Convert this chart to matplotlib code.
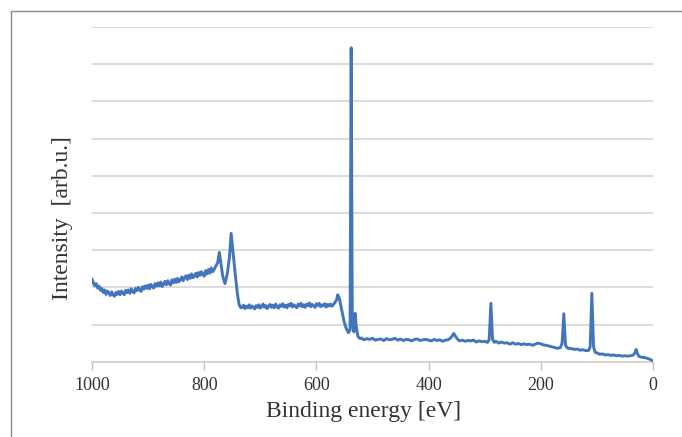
import matplotlib
matplotlib.use("Agg")
import matplotlib.pyplot as plt
from matplotlib.patches import Rectangle
import numpy as np

# Section A: high-energy background, 1000 -> 780 eV (2.5 eV steps)
energy_a = np.arange(1000.0, 779.0, -2.5)
intensity_a = [
    2.22, 2.12, 2.04, 2.10, 1.98, 2.03, 1.92, 1.97, 1.86, 1.93, 1.81, 1.90, 1.85, 1.78, 1.88, 1.80,
    1.76, 1.86, 1.81, 1.89, 1.80, 1.90, 1.85, 1.80, 1.92, 1.86, 1.93, 1.84, 1.96, 1.88, 1.85, 1.97,
    1.91, 2.00, 1.93, 1.89, 2.02, 1.95, 2.04, 1.97, 2.06, 1.96, 2.08, 2.01, 1.98, 2.10, 2.03, 2.12,
    2.04, 2.14, 2.02, 2.09, 2.16, 2.07, 2.18, 2.10, 2.06, 2.20, 2.12, 2.22, 2.13, 2.24, 2.15, 2.20,
    2.28, 2.18, 2.26, 2.31, 2.21, 2.33, 2.24, 2.36, 2.26, 2.30, 2.38, 2.28, 2.40, 2.32, 2.42, 2.35,
    2.30, 2.45, 2.36, 2.48, 2.38, 2.52, 2.42, 2.47, 2.55,
]

# Section LMM peaks: 776 -> 735 eV
energy_lmm = [776, 773, 770, 767, 763, 759, 755, 752, 749, 745, 741, 738, 735]
intensity_lmm = [2.66, 2.94, 2.62, 2.30, 2.10, 2.35, 2.80, 3.45, 3.00, 2.40, 1.85, 1.55, 1.45]

# Section B: plateau, 732.5 -> 567.5 eV (2.5 eV steps)
energy_b = np.arange(732.5, 567.0, -2.5)
intensity_b = [
    1.46, 1.52, 1.43, 1.49, 1.45, 1.53, 1.44, 1.50, 1.47, 1.42, 1.51, 1.46, 1.53, 1.44, 1.49, 1.55,
    1.46, 1.51, 1.43, 1.50, 1.54, 1.46, 1.52, 1.45, 1.55, 1.48, 1.44, 1.53, 1.49, 1.56, 1.47, 1.52,
    1.45, 1.54, 1.50, 1.57, 1.47, 1.53, 1.49, 1.45, 1.55, 1.50, 1.57, 1.48, 1.53, 1.46, 1.55, 1.51,
    1.58, 1.48, 1.54, 1.50, 1.46, 1.56, 1.51, 1.57, 1.48, 1.53, 1.50, 1.56, 1.47, 1.54, 1.50, 1.55,
    1.49, 1.53, 1.58,
]

# Section O 1s region: 564 -> 522 eV
energy_o = [564, 562, 559, 555, 551, 547, 543, 540, 538, 536, 533, 531, 529, 526, 522]
intensity_o = [1.66, 1.80, 1.70, 1.40, 1.10, 0.90, 0.78, 0.85, 8.44, 1.00, 0.80, 1.30, 0.95, 0.68, 0.62]

# Section C: low-energy baseline with C 1s, S 2p, Si 2p-type peaks, 520 -> 0 eV
energy_c = [
    520, 515, 510, 505, 500, 495, 490, 485, 480, 475, 470, 465, 460, 455, 450, 445,
    440, 435, 430, 425, 420, 415, 410, 405, 400, 395, 390, 385, 380, 375, 370, 365,
    360, 355, 352, 348, 345, 340, 335, 330, 325, 320, 315, 310, 305, 300, 295, 292,
    289, 286, 283, 280, 275, 270, 265, 260, 255, 250, 245, 240, 235, 230, 225, 220,
    215, 210, 205, 200, 195, 190, 185, 180, 175, 170, 165, 162, 159, 156, 153, 150,
    145, 140, 135, 130, 125, 120, 115, 112, 109, 106, 103, 100, 95, 90, 85, 80,
    75, 70, 65, 60, 55, 50, 45, 40, 35, 32, 30, 28, 25, 20, 15, 10, 5, 0,
]
intensity_c = [
    0.64, 0.59, 0.62, 0.60, 0.63, 0.58, 0.60, 0.61, 0.57, 0.62, 0.59, 0.60, 0.63, 0.58, 0.61, 0.57,
    0.60, 0.59, 0.56, 0.60, 0.61, 0.57, 0.59, 0.60, 0.58, 0.56, 0.60, 0.57, 0.59, 0.55, 0.58, 0.59,
    0.65, 0.76, 0.68, 0.60, 0.56, 0.58, 0.55, 0.57, 0.56, 0.58, 0.53, 0.56, 0.54, 0.55, 0.52, 0.60,
    1.57, 0.60, 0.52, 0.55, 0.50, 0.53, 0.50, 0.51, 0.47, 0.51, 0.47, 0.49, 0.46, 0.48, 0.46, 0.47,
    0.44, 0.47, 0.50, 0.48, 0.45, 0.44, 0.42, 0.40, 0.38, 0.36, 0.38, 0.50, 1.29, 0.45, 0.37, 0.36,
    0.35, 0.33, 0.34, 0.31, 0.32, 0.30, 0.30, 0.40, 1.84, 0.40, 0.25, 0.24, 0.20, 0.21, 0.18, 0.19,
    0.17, 0.18, 0.16, 0.17, 0.15, 0.16, 0.15, 0.16, 0.18, 0.25, 0.33, 0.22, 0.14, 0.12, 0.11, 0.09, 0.06, 0.02,
]

x_ticks = [1000, 800, 600, 400, 200, 0]

energy = np.concatenate([energy_a, energy_lmm, energy_b, energy_o, energy_c])
intensity = np.concatenate([intensity_a, intensity_lmm, intensity_b, intensity_o, intensity_c])

plt.rcParams['font.family'] = ['Liberation Serif', 'DejaVu Serif']

fig = plt.figure(figsize=(6.82, 4.37), dpi=100)
ax = fig.add_axes([92/682, 1 - 361.7/437, (653-92)/682, (361.7-27)/437])

ax.plot(energy, intensity, color='#4375BC', lw=2.1, solid_joinstyle='round', zorder=3)

ax.set_xlim(1000, 0)
ax.set_ylim(0, 9)
ax.set_xticks(x_ticks)
ax.set_xticklabels([str(t) for t in x_ticks])
ax.set_yticks(range(1, 10))
ax.yaxis.grid(True, color='#d9d9d9', lw=1.3)
ax.tick_params(axis='y', left=False, labelleft=False)
ax.tick_params(axis='x', direction='out', length=6, width=1, color='#bfbfbf',
               labelsize=13, labelcolor='#333333', pad=5)
for s in ['top', 'right', 'left']:
    ax.spines[s].set_visible(False)
ax.spines['bottom'].set_color('#d0d0d0')
ax.spines['bottom'].set_linewidth(1.3)
ax.set_axisbelow(True)

ax.set_xlabel('Binding energy [eV]', fontsize=17, color='#333333')
ax.xaxis.set_label_coords((364 - 92) / 561, (361.7 - 401) / 334.7)
ax.set_ylabel('Intensity  [arb.u.]', fontsize=17, color='#333333')
ax.yaxis.set_label_coords((73 - 92) / 561, (361.7 - 218) / 334.7)

fig.patches.append(Rectangle((11/682, -0.2), 1.2, 1.2 - 11/437, transform=fig.transFigure,
                             fill=False, edgecolor='#8c8c8c', lw=1.0))

fig.savefig('out.png', dpi=100)
